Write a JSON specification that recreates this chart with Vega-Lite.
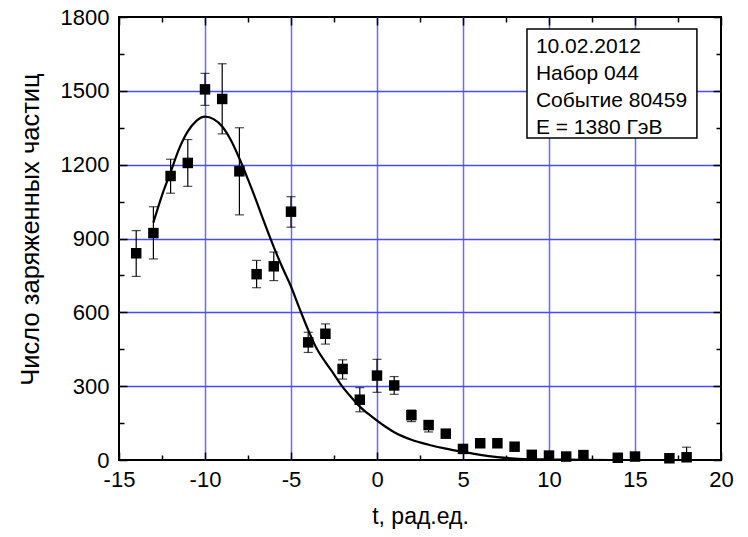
{
  "$schema": "https://vega.github.io/schema/vega-lite/v6.json",
  "autosize": "none",
  "width": 602,
  "height": 443,
  "padding": {"left": 119, "top": 17, "right": 27, "bottom": 77},
  "background": "white",
  "config": {
    "view": {"stroke": "black", "strokeWidth": 2},
    "font": "Liberation Sans"
  },
  "datasets": {
    "points": [
      {"t": -14, "n": 840, "lo": 746, "hi": 932},
      {"t": -13, "n": 922, "lo": 817, "hi": 1029},
      {"t": -12, "n": 1154, "lo": 1084, "hi": 1222},
      {"t": -11, "n": 1207, "lo": 1112, "hi": 1302},
      {"t": -10, "n": 1506, "lo": 1441, "hi": 1571},
      {"t": -9, "n": 1467, "lo": 1325, "hi": 1610},
      {"t": -8, "n": 1173, "lo": 996, "hi": 1350},
      {"t": -7, "n": 755, "lo": 700, "hi": 811},
      {"t": -6, "n": 787, "lo": 729, "hi": 845},
      {"t": -5, "n": 1009, "lo": 946, "hi": 1070},
      {"t": -4, "n": 478, "lo": 437, "hi": 519},
      {"t": -3, "n": 513, "lo": 471, "hi": 553},
      {"t": -2, "n": 370, "lo": 329, "hi": 407},
      {"t": -1, "n": 245, "lo": 196, "hi": 294},
      {"t": 0, "n": 343, "lo": 275, "hi": 409},
      {"t": 1, "n": 303, "lo": 267, "hi": 339},
      {"t": 2, "n": 182, "lo": 156, "hi": 203},
      {"t": 3, "n": 142, "lo": 114, "hi": 160},
      {"t": 4, "n": 107},
      {"t": 5, "n": 45},
      {"t": 6, "n": 68},
      {"t": 7, "n": 68},
      {"t": 8, "n": 54},
      {"t": 9, "n": 21},
      {"t": 10, "n": 18},
      {"t": 11, "n": 14},
      {"t": 12, "n": 20},
      {"t": 14, "n": 9},
      {"t": 15, "n": 14},
      {"t": 17, "n": 7},
      {"t": 18, "n": 11, "lo": 0, "hi": 52}
    ],
    "curve": [
      {"t": -13, "n": 965},
      {"t": -12.5, "n": 1075},
      {"t": -12, "n": 1170},
      {"t": -11.5, "n": 1265},
      {"t": -11, "n": 1335},
      {"t": -10.5, "n": 1378},
      {"t": -10, "n": 1395},
      {"t": -9.5, "n": 1385},
      {"t": -9, "n": 1355},
      {"t": -8.5, "n": 1300},
      {"t": -8, "n": 1225},
      {"t": -7.5, "n": 1140},
      {"t": -7, "n": 1050},
      {"t": -6.5, "n": 955},
      {"t": -6, "n": 865},
      {"t": -5.5, "n": 782},
      {"t": -5, "n": 705},
      {"t": -4.5, "n": 615},
      {"t": -4, "n": 528},
      {"t": -3.5, "n": 452},
      {"t": -3, "n": 398},
      {"t": -2.5, "n": 348},
      {"t": -2, "n": 297},
      {"t": -1.5, "n": 255},
      {"t": -1, "n": 217},
      {"t": -0.5, "n": 187},
      {"t": 0, "n": 160},
      {"t": 0.5, "n": 135},
      {"t": 1, "n": 113},
      {"t": 1.5, "n": 96},
      {"t": 2, "n": 82},
      {"t": 3, "n": 62},
      {"t": 4, "n": 46},
      {"t": 5, "n": 33},
      {"t": 6, "n": 21},
      {"t": 7, "n": 12},
      {"t": 8, "n": 6},
      {"t": 9, "n": 3},
      {"t": 10, "n": 2},
      {"t": 12, "n": 1},
      {"t": 14, "n": 0},
      {"t": 16, "n": 0}
    ]
  },
  "resolve": {"axis": {"x": "independent", "y": "independent"}},
  "layer": [
    {
      "data": {"name": "curve"},
      "mark": {"type": "line", "color": "black", "strokeWidth": 2.2, "interpolate": "monotone", "clip": true},
      "encoding": {
        "x": {
          "field": "t", "type": "quantitative",
          "scale": {"domain": [-15, 20], "nice": false, "zero": false},
          "axis": {
            "orient": "bottom",
            "values": [-15, -12.5, -10, -7.5, -5, -2.5, 0, 2.5, 5, 7.5, 10, 12.5, 15, 17.5, 20],
            "labelExpr": "datum.value % 5 === 0 ? toString(datum.value) : ''",
            "tickSize": {"condition": {"test": "datum.value % 5 === 0", "value": -8}, "value": -5},
            "tickColor": "black", "tickWidth": 1.5,
            "grid": true, "gridColor": "#6a6aff", "gridWidth": 1.5,
            "gridOpacity": {"condition": {"test": "datum.value % 5 === 0 && datum.value > -15 && datum.value < 20", "value": 1}, "value": 0},
            "domain": false,
            "labelFontSize": 22, "labelColor": "black", "labelPadding": 17, "labelFlush": false,
            "title": "t, рад.ед.", "titleFontSize": 23, "titleFontWeight": "normal", "titleColor": "black", "titlePadding": 15
          }
        },
        "y": {
          "field": "n", "type": "quantitative",
          "scale": {"domain": [0, 1800], "nice": false},
          "axis": {
            "orient": "left",
            "values": [0, 150, 300, 450, 600, 750, 900, 1050, 1200, 1350, 1500, 1650, 1800],
            "labelExpr": "datum.value % 300 === 0 ? toString(datum.value) : ''",
            "tickSize": {"condition": {"test": "datum.value % 300 === 0", "value": -8}, "value": -5},
            "tickColor": "black", "tickWidth": 1.5,
            "grid": true, "gridColor": "#4a4aff", "gridWidth": 1.5,
            "gridOpacity": {"condition": {"test": "datum.value % 300 === 0 && datum.value > 0 && datum.value < 1800", "value": 1}, "value": 0},
            "domain": false,
            "labelFontSize": 22, "labelColor": "black", "labelPadding": 18, "labelFlush": false,
            "title": "Число заряженных частиц", "titleFontSize": 25.5, "titleFontWeight": "normal", "titleColor": "black", "titlePadding": 17, "titleY": 212
          }
        }
      }
    },
    {
      "data": {"values": [{}]},
      "mark": {"type": "rect", "fill": "white", "stroke": "black", "strokeWidth": 1.5},
      "encoding": {
        "x": {"datum": 8.72, "type": "quantitative", "axis": null},
        "x2": {"datum": 18.6},
        "y": {"datum": 1751, "type": "quantitative", "axis": null},
        "y2": {"datum": 1308}
      }
    },
    {
      "data": {"values": [{}]},
      "mark": {"type": "text", "text": ["10.02.2012", "Набор 044", "Событие 80459", "E = 1380 ГэВ"], "align": "left", "baseline": "alphabetic", "fontSize": 21, "lineHeight": 27, "color": "black"},
      "encoding": {
        "x": {"datum": 9.24, "type": "quantitative", "axis": null},
        "y": {"datum": 1652, "type": "quantitative", "axis": null}
      }
    },
    {
      "data": {"name": "points"},
      "transform": [{"filter": "isValid(datum.lo)"}],
      "mark": {"type": "rule", "color": "black", "strokeWidth": 1.2},
      "encoding": {
        "x": {"field": "t", "type": "quantitative", "axis": null},
        "y": {"field": "lo", "type": "quantitative", "axis": null},
        "y2": {"field": "hi"}
      }
    },
    {
      "data": {"name": "points"},
      "transform": [{"filter": "isValid(datum.lo) && datum.lo > 0"}],
      "mark": {"type": "tick", "orient": "horizontal", "color": "black", "thickness": 1.2, "size": 9},
      "encoding": {
        "x": {"field": "t", "type": "quantitative", "axis": null},
        "y": {"field": "lo", "type": "quantitative", "axis": null}
      }
    },
    {
      "data": {"name": "points"},
      "transform": [{"filter": "isValid(datum.hi)"}],
      "mark": {"type": "tick", "orient": "horizontal", "color": "black", "thickness": 1.2, "size": 9},
      "encoding": {
        "x": {"field": "t", "type": "quantitative", "axis": null},
        "y": {"field": "hi", "type": "quantitative", "axis": null}
      }
    },
    {
      "data": {"name": "points"},
      "mark": {"type": "square", "size": 110, "color": "black", "opacity": 1, "filled": true},
      "encoding": {
        "x": {
          "field": "t", "type": "quantitative",
          "axis": {
            "orient": "top",
            "values": [-15, -12.5, -10, -7.5, -5, -2.5, 0, 2.5, 5, 7.5, 10, 12.5, 15, 17.5, 20],
            "labels": false, "title": null, "grid": false, "domain": false,
            "tickSize": {"condition": {"test": "datum.value % 5 === 0", "value": -8}, "value": -5},
            "tickColor": "black", "tickWidth": 1.5
          }
        },
        "y": {
          "field": "n", "type": "quantitative",
          "axis": {
            "orient": "right",
            "values": [0, 150, 300, 450, 600, 750, 900, 1050, 1200, 1350, 1500, 1650, 1800],
            "labels": false, "title": null, "grid": false, "domain": false,
            "tickSize": {"condition": {"test": "datum.value % 300 === 0", "value": -8}, "value": -5},
            "tickColor": "black", "tickWidth": 1.5
          }
        }
      }
    }
  ]
}
